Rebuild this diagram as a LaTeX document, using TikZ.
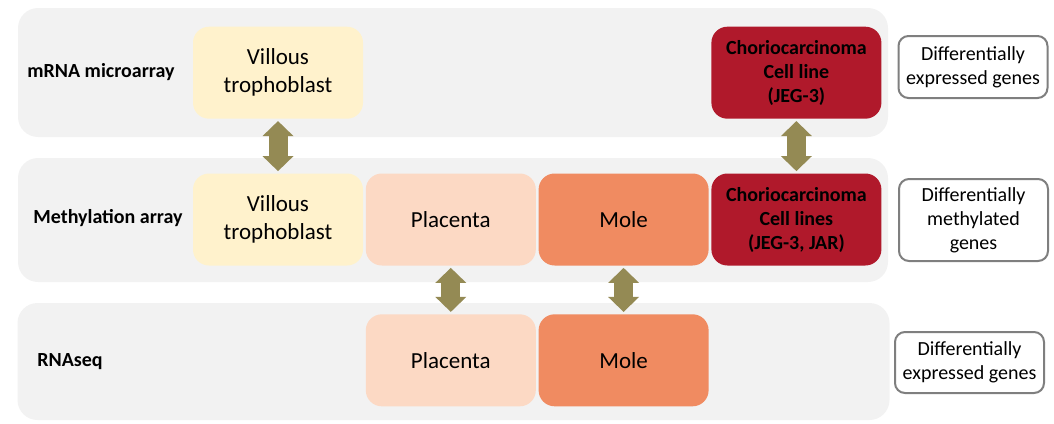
\documentclass[tikz,border=0pt]{standalone}
\usepackage{fontspec}
\setmainfont{Carlito}
\usetikzlibrary{arrows.meta,positioning}

\definecolor{bandgray}{HTML}{F2F2F2}
\definecolor{villousfill}{HTML}{FFF2CC}
\definecolor{placentafill}{HTML}{FCD9C4}
\definecolor{molefill}{HTML}{F08B61}
\definecolor{choriofill}{HTML}{B0192B}
\definecolor{arrowolive}{HTML}{948A54}
\definecolor{genesborder}{HTML}{7F7F7F}

\tikzset{
  band/.style={fill=bandgray,rounded corners=10pt,minimum width=435pt,inner sep=0pt},
  sample/.style={rounded corners=8pt,minimum width=85pt,minimum height=46pt,align=center,inner sep=0pt,font=\fontsize{11.5}{14}\selectfont},
  cellline/.style={sample,fill=choriofill,font=\fontsize{10}{12}\selectfont\bfseries},
  method/.style={anchor=west,inner sep=0pt,font=\fontsize{10}{12}\selectfont\bfseries},
  genes/.style={draw=genesborder,line width=1pt,fill=white,rounded corners=5pt,minimum width=74.5pt,align=center,inner sep=0pt,font=\fontsize{10}{12}\selectfont},
  link/.style={draw=arrowolive,line width=9.5pt,{Triangle[length=7.5pt,width=15.5pt,line width=0pt]}-{Triangle[length=7.5pt,width=15.5pt,line width=0pt]},shorten <=1pt,shorten >=1pt}
}

\begin{document}
\begin{tikzpicture}[x=0.5pt,y=-0.5pt]
\useasboundingbox (0,0) rectangle (1054,423);

% grey bands, one per platform
\node[band,minimum height=64.5pt] (mrnaband) at (453,72.5) {};
\node[band,minimum height=62pt] (methband) at (453,220) {};
\node[band,minimum width=436pt,minimum height=58.5pt] (rnaband) at (453.5,361.5) {};

\node[method] (mrnalbl) at (27,72) {mRNA microarray};
\node[method] (methlbl) at (33,218) {Methylation array};
\node[method] (rnalbl) at (37,362) {RNAseq};

% methylation row
\node[sample,fill=villousfill] (vt2) at (278,219.5) {Villous\\trophoblast};
\node[sample,fill=placentafill,right=1pt of vt2] (pl2) {Placenta};
\node[sample,fill=molefill,right=1pt of pl2] (mo2) {Mole};
\node[cellline,right=1pt of mo2] (cc2) {Choriocarcinoma\\Cell lines\\(JEG-3, JAR)};

% mRNA microarray row
\node[sample,fill=villousfill,above=27pt of vt2] (vt1) {Villous\\trophoblast};
\node[cellline,above=27pt of cc2] (cc1) {Choriocarcinoma\\Cell line\\(JEG-3)};

% RNAseq row
\node[sample,fill=placentafill,below=24pt of pl2] (pl3) {Placenta};
\node[sample,fill=molefill,below=24pt of mo2] (mo3) {Mole};

% outcome boxes
\node[genes,minimum height=31pt] (gexp1) at (973,67) {Differentially\\expressed genes};
\node[genes,minimum height=41pt] (gmeth) at (973.5,220) {Differentially\\methylated\\genes};
\node[genes,minimum height=30.5pt] (gexp3) at (969.5,362.5) {Differentially\\expressed genes};

\draw[link] (vt1) -- (vt2);
\draw[link] (cc1) -- (cc2);
\draw[link] (pl2) -- (pl3);
\draw[link] (mo2) -- (mo3);
\end{tikzpicture}
\end{document}
